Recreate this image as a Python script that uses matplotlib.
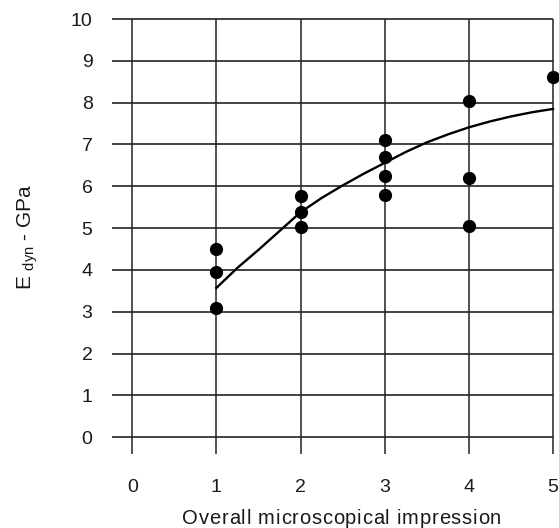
import matplotlib
matplotlib.use("Agg")
import matplotlib.pyplot as plt

plt.rcParams['font.family'] = ['Liberation Sans', 'DejaVu Sans']
plt.rcParams['mathtext.fontset'] = 'custom'
plt.rcParams['mathtext.rm'] = 'Liberation Sans'
plt.rcParams['mathtext.it'] = 'Liberation Sans'

# Measured points
pts_x = [1, 1, 1, 2, 2, 2, 3, 3, 3, 3, 4, 4, 4, 5]
pts_y = [4.49, 3.95, 3.08, 5.78, 5.39, 5.03, 7.11, 6.71, 6.24, 5.80, 8.03, 6.19, 5.04, 8.62]

# Fitted curve
curve_x = [1.0, 1.25, 1.5, 1.75, 2.0, 2.25, 2.5, 2.75, 3.0, 3.25, 3.5, 3.75, 4.0, 4.25, 4.5, 4.75, 5.0]
curve_y = [3.57, 4.05, 4.48, 4.93, 5.38, 5.72, 6.02, 6.30, 6.56, 6.82, 7.05, 7.24, 7.41, 7.55, 7.67, 7.77, 7.85]

x_ticks = [0, 1, 2, 3, 4, 5]
y_ticks = [0, 1, 2, 3, 4, 5, 6, 7, 8, 9, 10]
x_title = 'Overall microscopical impression'
y_title = r'E $_{\mathrm{dyn}}$ - GPa'

W, H = 559, 528
fig = plt.figure(figsize=(W / 100, H / 100), dpi=100)
ax = fig.add_axes([112 / W, (H - 454) / H, 441 / W, 435 / H])

xmin, xmax = -0.24, 5.0
ymin, ymax = -0.4, 10.0
ax.set_xlim(xmin, xmax)
ax.set_ylim(ymin, ymax)

grid_col = '#222222'
ax.hlines(y_ticks, xmin, xmax, colors=grid_col, linewidth=1.2, clip_on=False)
ax.vlines(x_ticks, ymin, ymax, colors=grid_col, linewidth=1.1, clip_on=False)

ax.plot(curve_x, curve_y, color='black', linewidth=1.7, clip_on=False, zorder=3)
ax.plot(pts_x, pts_y, 'o', color='black', markersize=8.5, clip_on=False, zorder=4)

for s in ax.spines.values():
    s.set_visible(False)

ax.set_xticks(x_ticks)
ax.set_yticks(y_ticks)
ax.set_xticklabels([str(v) for v in x_ticks])
ax.set_yticklabels([str(v) for v in y_ticks])
ax.tick_params(axis='both', length=0, labelsize=14, colors='#1a1a1a')
ax.tick_params(axis='y', pad=14)
ax.tick_params(axis='x', pad=18)

ax.set_ylabel(y_title, fontsize=15, labelpad=22, color='#1a1a1a')

# x title with letter spacing (tracking), centred at x ~ 341 px
fs = 14.5
track = 0.75  # extra px per character
renderer = fig.canvas.get_renderer()
def prefix_width(s):
    if not s:
        return 0.0
    t = fig.text(0, 0, s.replace(' ', '\u00a0'), fontsize=fs)
    w = t.get_window_extent(renderer).width
    t.remove()
    return w
offsets = [prefix_width(x_title[:i]) + i * track for i in range(len(x_title) + 1)]
total = offsets[-1] - track
cx, cy = 341.5, H - 516
x0 = cx - total / 2
for i, ch in enumerate(x_title):
    if ch == ' ':
        continue
    fig.text((x0 + offsets[i]) / W, cy / H, ch, fontsize=fs, color='#1a1a1a',
             ha='left', va='center_baseline')

fig.savefig('out.png', dpi=100, facecolor='white')
